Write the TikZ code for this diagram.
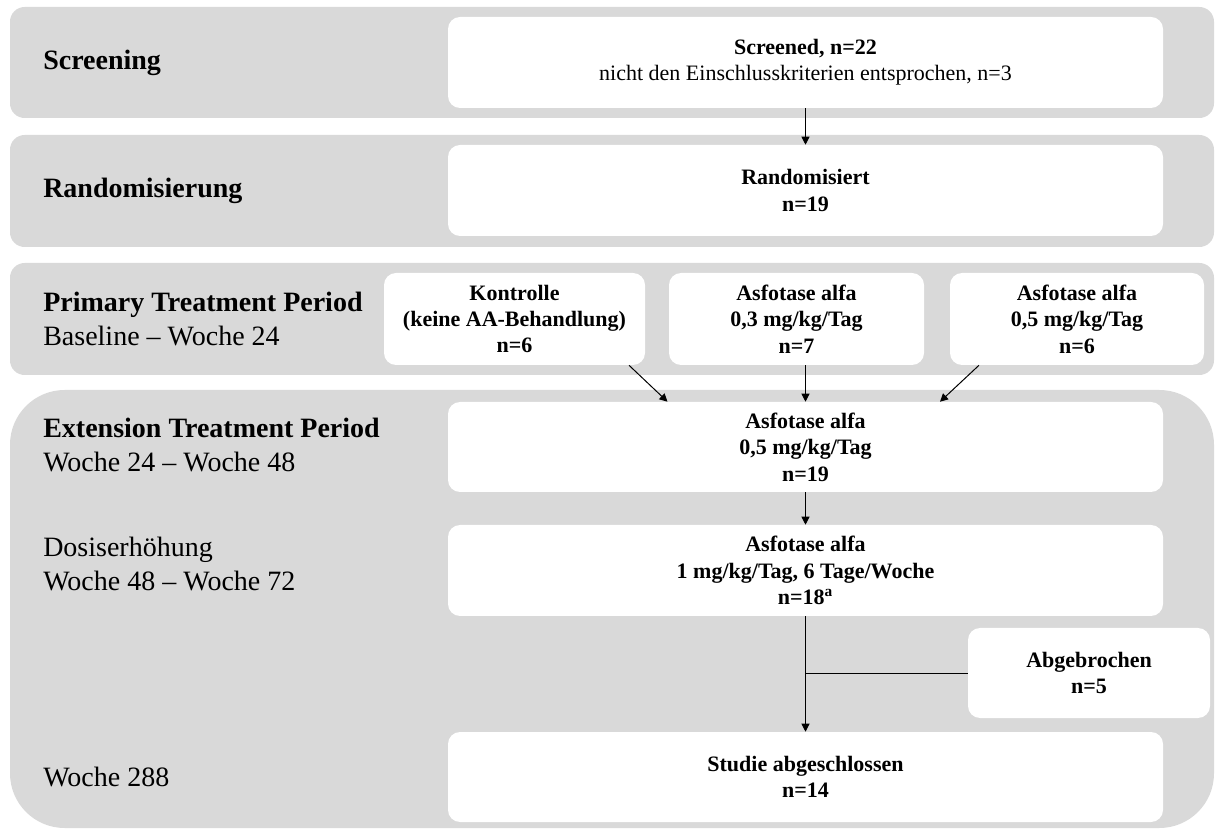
\documentclass[tikz,border=0pt]{standalone}
\usepackage{fontspec}
\setmainfont{Liberation Serif}
\usetikzlibrary{arrows.meta,calc}
\definecolor{bandgray}{HTML}{D9D9D9}
% one drawing unit = one pixel of the layout grid
\newcommand\pxu{0.75pt}
\newcommand\labfont{\fontsize{21}{25}\selectfont}
\newcommand\boxfont{\fontsize{16.5}{19.8}\selectfont\bfseries}
\tikzset{
  band/.style={fill=bandgray, rounded corners=11pt},
  bigband/.style={fill=bandgray, rounded corners=41pt},
  box/.style={fill=white, rounded corners=9pt, inner sep=0pt, align=center, font=\boxfont},
  lab/.style={anchor=west, align=left, inner sep=0pt, font=\labfont},
  arr/.style={-{Triangle[length=6pt,width=6pt]}, line width=0.75pt},
  link/.style={line width=0.75pt},
}
\begin{document}
\begin{tikzpicture}[x=0.75pt,y=-0.75pt]
\useasboundingbox (0,0) rectangle (1215,830);

% phase bands
\fill[band] (10,7) rectangle (1214,118);
\fill[band] (10,135) rectangle (1214,247);
\fill[band] (10,263) rectangle (1214,375);
\fill[bigband] (10,390) rectangle (1214,828);

% phase labels
\node[lab] (lscr) at (43,62.5) {\textbf{Screening}};
\node[lab] (lrnd) at (43,191) {\textbf{Randomisierung}};
\node[lab] (lprim) at (43,319) {\textbf{Primary Treatment Period}\\Baseline – Woche 24};
\node[lab] (lext) at (43,445) {\textbf{Extension Treatment Period}\\Woche 24 – Woche 48};
\node[lab] (ldose) at (43,564) {Dosiserhöhung\\Woche 48 – Woche 72};
\node[lab] (lend) at (43,777) {Woche 288};

% flow boxes
\node[box, minimum width=715*\pxu, minimum height=91*\pxu] (scr) at (805.5,62.5)
  {Screened, n=22\\\mdseries nicht den Einschlusskriterien entsprochen, n=3};
\node[box, minimum width=715*\pxu, minimum height=91*\pxu] (rnd) at (805.5,190.5)
  {Randomisiert\\n=19};
\node[box, minimum width=261*\pxu, minimum height=92*\pxu] (ctrl) at (514.5,319)
  {Kontrolle\\(keine AA-Behandlung)\\n=6};
\node[box, minimum width=255*\pxu, minimum height=92*\pxu] (mid) at (796.5,319)
  {Asfotase alfa\\0,3 mg/kg/Tag\\n=7};
\node[box, minimum width=254*\pxu, minimum height=92*\pxu] (hi) at (1077,319)
  {Asfotase alfa\\0,5 mg/kg/Tag\\n=6};
\node[box, minimum width=715*\pxu, minimum height=90*\pxu] (ext) at (805.5,447)
  {Asfotase alfa\\0,5 mg/kg/Tag\\n=19};
\node[box, minimum width=715*\pxu, minimum height=91*\pxu] (dose) at (805.5,570.5)
  {Asfotase alfa\\1 mg/kg/Tag, 6 Tage/Woche\\n=18\textsuperscript{a}};
\node[box, minimum width=242*\pxu, minimum height=90*\pxu] (abg) at (1089,673)
  {Abgebrochen\\n=5};
\node[box, minimum width=715*\pxu, minimum height=90*\pxu] (done) at (805.5,777)
  {Studie abgeschlossen\\n=14};

% connectors
\draw[arr] (scr.south) -- (rnd.north);
\draw[arr] ($(ctrl.south)+(114.5,0)$) -- ($(ext.north)+(-138,0)$);
\draw[arr] (mid.south -| ext.north) -- (ext.north);
\draw[arr] ($(hi.south)+(-98,0)$) -- ($(ext.north)+(134.5,0)$);
\draw[arr] (ext.south) -- (dose.north);
\draw[arr] (dose.south) -- (done.north);
\draw[link] (abg.west) -- (abg.west -| dose.south);
\end{tikzpicture}
\end{document}
